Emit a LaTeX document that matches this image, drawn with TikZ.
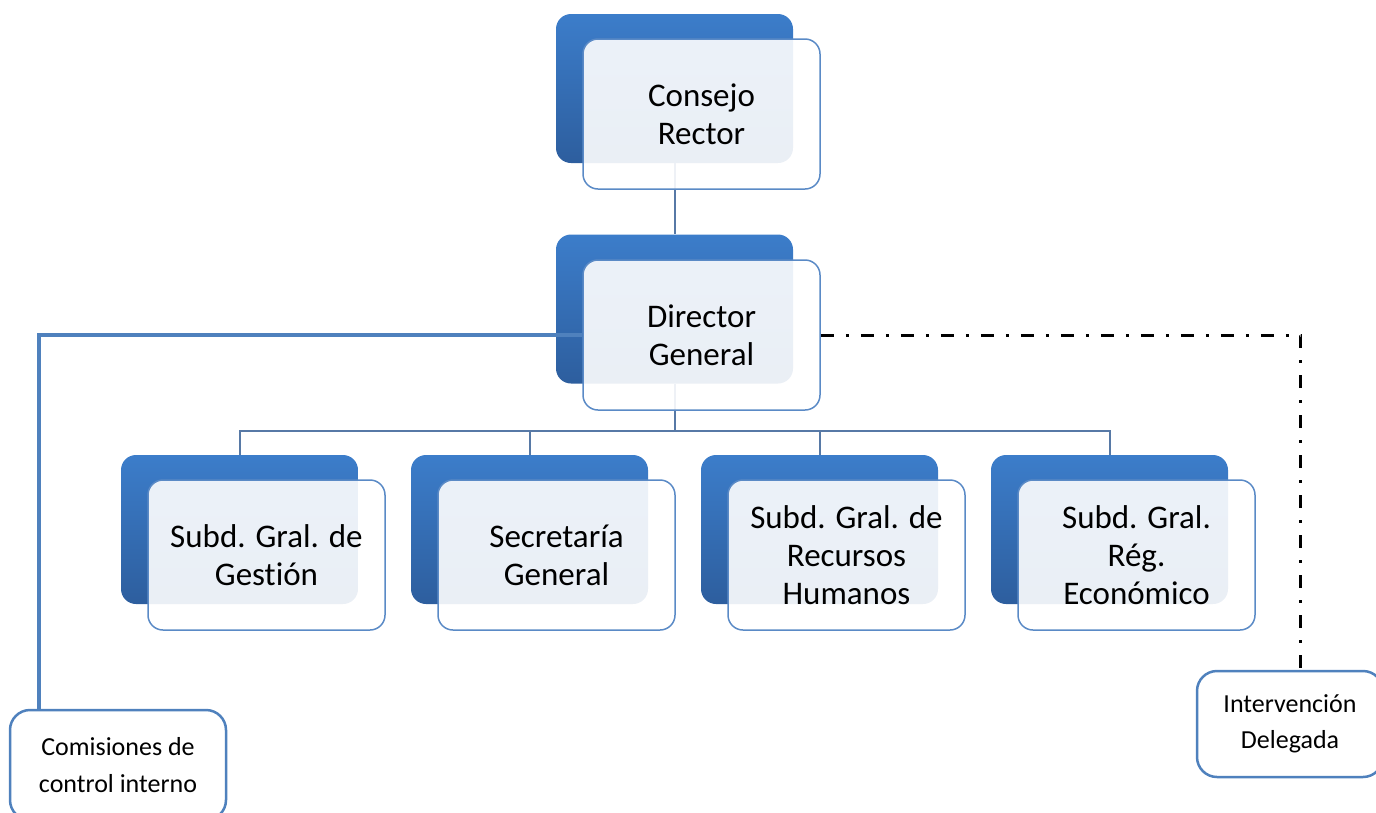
\documentclass[tikz,border=0pt]{standalone}
\usepackage{fontspec}
\setmainfont{Carlito}[Ligatures=NoCommon]
\usetikzlibrary{calc}
\definecolor{backtop}{HTML}{3C7DCA}
\definecolor{backbot}{HTML}{2D5E9E}
\definecolor{frameblue}{HTML}{5A8AC6}
\definecolor{treeblue}{HTML}{5779A6}
\definecolor{linkblue}{HTML}{4F81BD}

\begin{document}
\begin{tikzpicture}[x=1pt,y=-1pt,
        back/.style={rounded corners=15pt, minimum width=237pt, minimum height=149pt,
            inner sep=0pt, top color=backtop, bottom color=backbot},
        front/.style={rounded corners=15pt, minimum width=237pt, minimum height=150pt,
            inner sep=0pt, draw=frameblue, line width=1.5pt, fill=white, fill opacity=0.9,
            text opacity=1, align=center, font=\fontsize{33}{38}\selectfont},
        side/.style={rounded corners=20pt, inner sep=0pt, draw=linkblue, line width=2.5pt,
            fill=white, align=center, font=\fontsize{26}{36.5}\selectfont},
        tree/.style={draw=treeblue, line width=2pt},
        link/.style={draw=linkblue, line width=3.5pt},
        control/.style={line width=3pt, dash pattern=on 13pt off 12pt on 3pt off 12pt}]
    \useasboundingbox (0,0) rectangle (1376,812);

    % blue boxes behind
    \node[back] (consejoB) at (674.5,88.5) {};
    \node[back] (directorB) at (674.5,309) {};
    \foreach \n/\x in {gestion/239.5, secretaria/529.5, rrhh/819.5, economico/1109.5}{
        \node[back] (\n B) at (\x,529.5) {};
    }

    % tree
    \draw[tree] (consejoB.south) -- (directorB.north);
    \foreach \n in {gestion,secretaria,rrhh,economico}{
        \draw[tree] (\n B.north) -- ++(0,-24) -| (directorB.south);
    }

    % front boxes
    \node[front] (consejo) at (701.5,114) {Consejo\\Rector};
    \node[front] (director) at (701.5,335) {Director\\General};
    \foreach \n/\x/\t in {gestion/266.5/{Subd. Gral. de\\Gestión},
                          secretaria/556.5/{Secretaría\\General},
                          rrhh/846.5/{Subd. Gral. de\\Recursos\\Humanos},
                          economico/1136.5/{Subd. Gral.\\Rég.\\Económico}}{
        \node[front] (\n) at (\x,555) {\t};
    }

    % side units
    \node[side, minimum width=216pt, minimum height=110pt] (comisiones) at (118,765)
        {Comisiones de\\control interno};
    \node[side, minimum width=186pt, minimum height=106pt] (intervencion) at (1290,724)
        {Intervención\\Delegada};

    \draw[link] (director.west) -| ([xshift=30pt]comisiones.north west);
    \draw[control] (director.east) -| ([xshift=105pt]intervencion.north west);
\end{tikzpicture}
\end{document}
